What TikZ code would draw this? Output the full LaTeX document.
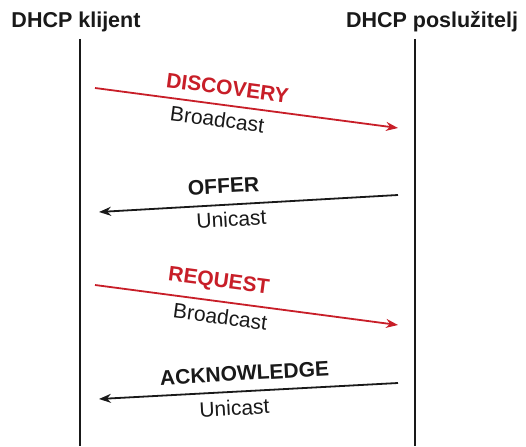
\documentclass[tikz,border=0pt]{standalone}
\usepackage{fontspec}
\setmainfont{Liberation Sans}
\usetikzlibrary{arrows.meta}
\definecolor{msgred}{RGB}{200,30,40}
\definecolor{ink}{RGB}{25,25,25}
\begin{document}
\begin{tikzpicture}[x=1pt,y=-1pt,
  life/.style={line width=1.8pt, ink},
  msg/.style={line width=1.8pt, -{Stealth[length=12pt,width=9pt]}},
  title/.style={font=\fontsize{21.5}{24}\selectfont\bfseries, inner sep=0pt, anchor=base, text=ink},
  lbl/.style={font=\fontsize{21}{24}\selectfont\bfseries, sloped, inner sep=0pt},
  sub/.style={font=\fontsize{21}{24}\selectfont, sloped, inner sep=0pt, text=ink}]
\fill[white] (0,0) rectangle (526,446);
\useasboundingbox (0,0) rectangle (526,446);
% titles
\node[title] (cl) at (76,28) {DHCP klijent};
\node[title] (sv) at (432,28) {DHCP poslužitelj};
% lifelines
\coordinate (lt) at (80,39);
\coordinate (lb) at (80,446);
\coordinate (rt) at (415,39);
\coordinate (rb) at (415,446);
\draw[life] (lt) -- (lb);
\draw[life] (rt) -- (rb);
% message endpoints
\coordinate (d1) at (95,88);
\coordinate (d2) at (398,128);
\coordinate (o1) at (398,195);
\coordinate (o2) at (99,212);
\coordinate (r1) at (95,285);
\coordinate (r2) at (398,325);
\coordinate (a1) at (398,383);
\coordinate (a2) at (99,399);
% messages
\draw[msg, msgred] (d1) --
  node[lbl, pos=0.43, above=9pt, text=msgred] (dl) {DISCOVERY}
  node[sub, pos=0.41, below=6.3pt] (db) {Broadcast} (d2);
\draw[msg, ink] (o1) --
  node[lbl, pos=0.58, above=10.5pt, text=ink] (ol) {OFFER}
  node[sub, pos=0.56, below=6pt] (ou) {Unicast} (o2);
\draw[msg, msgred] (r1) --
  node[lbl, pos=0.40, above=9pt, text=msgred] (rl) {REQUEST}
  node[sub, pos=0.42, below=6.3pt] (rbc) {Broadcast} (r2);
\draw[msg, ink] (a1) --
  node[lbl, pos=0.51, above=9.5pt, text=ink] (al) {ACKNOWLEDGE}
  node[sub, pos=0.55, below=7.5pt] (au) {Unicast} (a2);
\end{tikzpicture}
\end{document}
